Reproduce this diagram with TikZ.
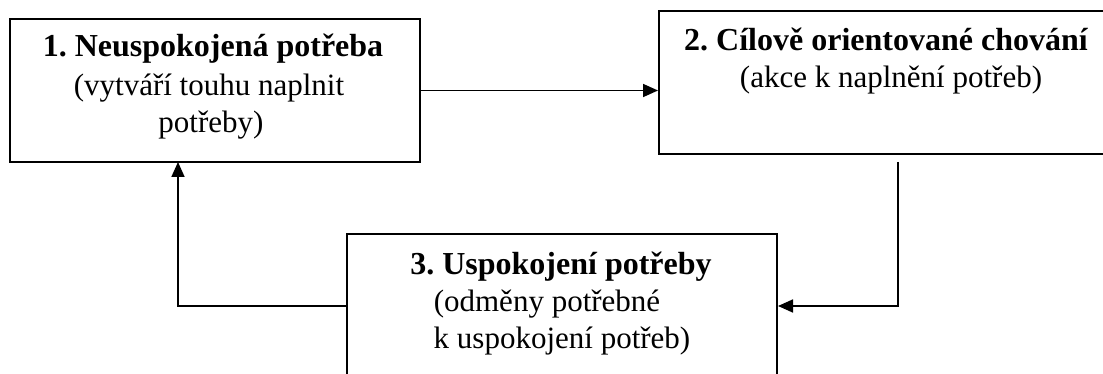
\documentclass[tikz,border=0pt]{standalone}
\usepackage{fontspec}
\setmainfont{Liberation Serif}
\usetikzlibrary{arrows.meta}
\frenchspacing
\begin{document}
\begin{tikzpicture}[x=1pt,y=-1pt,
  box/.style={draw,line width=2pt,inner sep=0pt,rectangle},
  lbl/.style={anchor=base,inner sep=0pt,font=\fontsize{31}{37}\selectfont},
  ttl/.style={lbl,font=\fontsize{32}{38}\selectfont\bfseries},
  conn/.style={line width=1.7pt,-{Triangle[length=15pt,width=13pt]}}]
  \useasboundingbox (0,0) rectangle (1103,374);
  \clip (0,0) rectangle (1103,374);
  % three stages of the cycle
  \node[box,minimum width=410pt,minimum height=143pt] (b1) at (215,90.5) {};
  \node[box,minimum width=456pt,minimum height=143pt] (b2) at (887,82.5) {};
  \node[box,minimum width=430pt,minimum height=144pt] (b3) at (562,306) {};
  % labels
  \node[ttl] (b1a) at (213,57) {1. Neuspokojená potřeba};
  \node[lbl] (b1b) at (209,96) {(vytváří touhu naplnit};
  \node[lbl] (b1c) at (211,133) {potřeby)};
  \node[ttl] (b2a) at (886,51) {2. Cílově orientované chování};
  \node[lbl] (b2b) at (891,88) {(akce k naplnění potřeb)};
  \node[ttl] (b3a) at (561,274) {3. Uspokojení potřeby};
  \node[lbl] (b3b) at (547,311) {(odměny potřebné};
  \node[lbl] (b3c) at (562,348) {k uspokojení potřeb)};
  % connectors
  \coordinate (c1) at (898,162);
  \coordinate (c2) at (178,162);
  \draw[conn] (b1.east) -- (b1.east -| b2.west);
  \draw[conn] (c1) |- (b3.east);
  \draw[conn] (b3.west) -| (c2);
\end{tikzpicture}
\end{document}
